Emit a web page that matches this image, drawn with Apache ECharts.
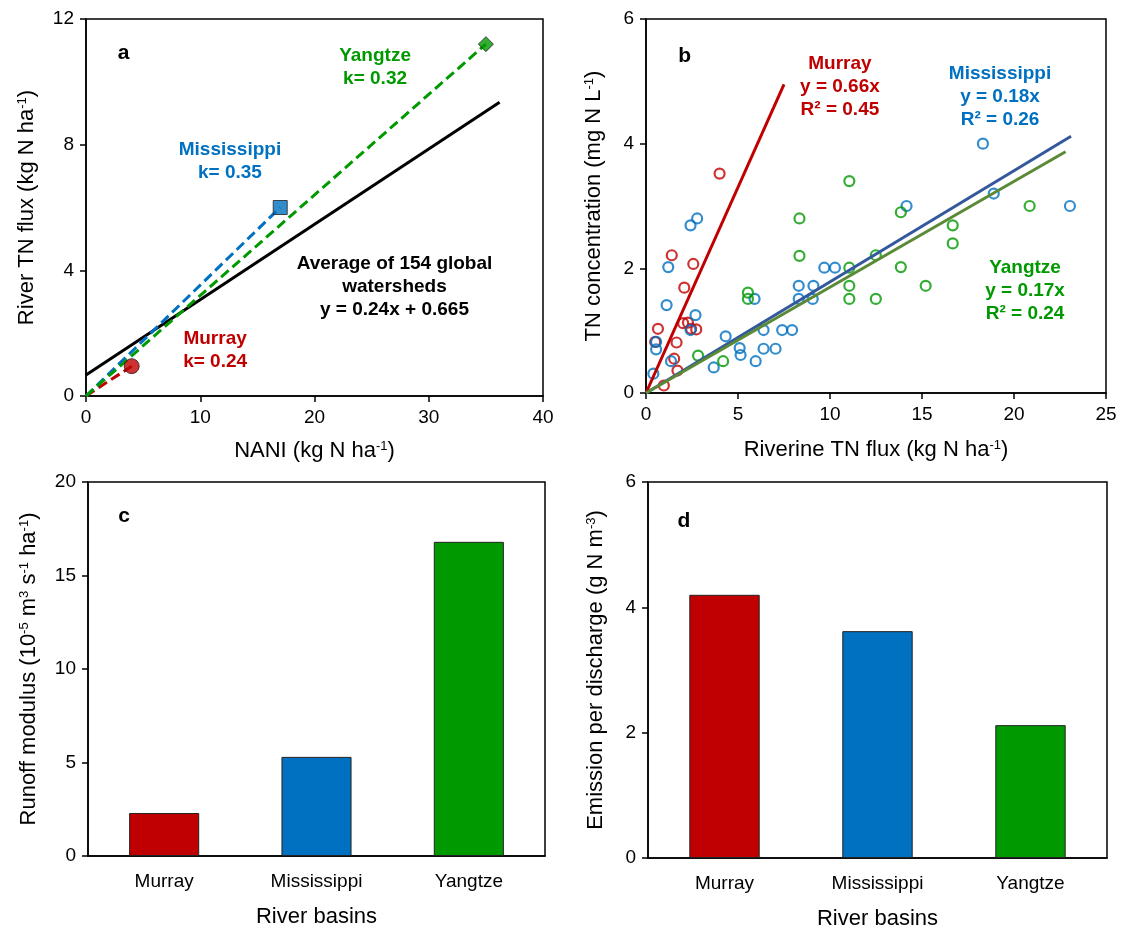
<!DOCTYPE html>
<html>
<head>
<meta charset="utf-8">
<script src="https://cdn.jsdelivr.net/npm/echarts@6/dist/echarts.min.js"></script>
<style>
  html, body { margin: 0; padding: 0; background: #fff; }
  #chart { width: 1121px; height: 932px; }
</style>
</head>
<body>
<div id="chart"></div>
<script>
    'use strict';

    // ---- data ----
    var basins = ['Murray', 'Mississippi', 'Yangtze'];

    // panel a: NANI vs river TN flux (Murray, Mississippi, Yangtze)
    var naniX = [4, 17, 35];
    var fluxY = [0.95, 6.0, 11.2];
    var avgLineX = [0, 36.2];
    var avgLineY = [0.665, 9.35];

    // panel b: riverine TN flux vs TN concentration
    var murrayX = [4.0, 1.4, 2.57, 2.08, 0.65, 0.5, 1.66, 1.53, 1.71, 0.97, 2.02, 2.28, 2.45, 2.73];
    var murrayY = [3.52, 2.21, 2.07, 1.69, 1.03, 0.82, 0.81, 0.55, 0.36, 0.12, 1.12, 1.13, 1.03, 1.02];
    var missX = [2.78, 2.42, 1.21, 1.12, 2.69, 2.42, 0.55, 0.55, 0.4, 1.36, 3.68, 4.33, 5.09, 5.14, 5.96, 6.39,
        6.39, 7.04, 7.4, 7.94, 5.9, 8.3, 8.3, 9.1, 9.06, 9.69, 10.27, 18.31, 18.9, 23.04, 14.16];
    var missY = [2.8, 2.69, 2.02, 1.41, 1.25, 1.01, 0.82, 0.7, 0.31, 0.51, 0.41, 0.91, 0.72, 0.61, 0.51, 0.71,
        1.01, 0.71, 1.01, 1.01, 1.51, 1.72, 1.51, 1.72, 1.51, 2.01, 2.01, 4.0, 3.2, 3.0, 3.0];
    var yangX = [11.05, 8.34, 8.34, 11.05, 11.05, 11.05, 5.54, 5.54, 2.83, 4.19, 12.49, 12.49, 13.85, 16.67,
        16.67, 13.85, 15.2, 20.85];
    var yangY = [3.4, 2.8, 2.2, 2.01, 1.72, 1.51, 1.61, 1.51, 0.6, 0.51, 1.51, 2.21, 2.9, 2.69,
        2.4, 2.02, 1.72, 3.0];
    var murrayFitX = [0, 7.5], murrayFitY = [0, 4.95];
    var missFitX = [0, 23.1], missFitY = [0, 4.12];
    var yangFitX = [0, 22.8], yangFitY = [0, 3.87];

    // panels c, d
    var runoff = [2.3, 5.3, 16.8];
    var emission = [4.2, 3.62, 2.12];

    // ---- styling ----
    var FONT = 'Liberation Sans, Arial, sans-serif';
    var RED = '#C00000', BLUE = '#0070C0', GREEN = '#009900';
    var basinColors = [RED, BLUE, GREEN];

    function zip(xs, ys) {
        return xs.map(function (x, i) { return [x, ys[i]]; });
    }

    var supRich = {
        s: { fontSize: 13, fontFamily: FONT, color: '#000', verticalAlign: 'top' }
    };

    function valueAxis(idx, min, max, interval, name, gap) {
        return {
            type: 'value', gridIndex: idx, min: min, max: max, interval: interval,
            name: name, nameLocation: 'middle', nameGap: gap,
            nameTextStyle: { fontSize: 22, fontFamily: FONT, color: '#000', rich: supRich },
            axisLine: { show: true, onZero: false, lineStyle: { color: '#000', width: 1.5 } },
            axisTick: { show: true, inside: false, length: 6, lineStyle: { color: '#000', width: 1.5 } },
            axisLabel: { fontSize: 19, fontFamily: FONT, color: '#000', margin: 12 },
            splitLine: { show: false }
        };
    }

    function catAxis(idx) {
        return {
            type: 'category', gridIndex: idx, data: basins,
            name: 'River basins', nameLocation: 'middle', nameGap: 50,
            nameTextStyle: { fontSize: 22, fontFamily: FONT, color: '#000' },
            axisLine: { show: true, lineStyle: { color: '#000', width: 1.5 } },
            axisTick: { show: false },
            axisLabel: { fontSize: 19, fontFamily: FONT, color: '#000', margin: 16 },
            splitLine: { show: false }
        };
    }

    var grids = [
        { left: 86, top: 19, width: 457, height: 377 },
        { left: 646, top: 19, width: 460, height: 374 },
        { left: 88, top: 482, width: 457, height: 374 },
        { left: 648, top: 482, width: 459, height: 376 }
    ].map(function (g) {
        g.show = true;
        g.borderColor = '#000';
        g.borderWidth = 1.5;
        g.backgroundColor = '#fff';
        return g;
    });

    var markerSymbols = ['circle', 'rect', 'diamond'];
    var markerSizes = [15, 14, 15];

    var series = [];

    // panel a
    series.push({
        type: 'line', xAxisIndex: 0, yAxisIndex: 0, data: zip(avgLineX, avgLineY),
        symbol: 'none', lineStyle: { color: '#000', width: 3 }, z: 2
    });
    basins.forEach(function (b, i) {
        series.push({
            type: 'line', xAxisIndex: 0, yAxisIndex: 0,
            data: [[0, 0], [naniX[i], fluxY[i]]],
            symbol: 'none', lineStyle: { color: basinColors[i], width: 3, type: [10, 5] }, z: 3
        });
    });
    basins.forEach(function (b, i) {
        series.push({
            type: 'scatter', xAxisIndex: 0, yAxisIndex: 0,
            data: [[naniX[i], fluxY[i]]],
            symbol: markerSymbols[i], symbolSize: markerSizes[i],
            itemStyle: { color: basinColors[i], borderColor: '#222', borderWidth: 1 }, z: 5
        });
    });

    // panel b
    [[murrayX, murrayY, RED], [missX, missY, BLUE], [yangX, yangY, GREEN]].forEach(function (s) {
        series.push({
            type: 'scatter', xAxisIndex: 1, yAxisIndex: 1, data: zip(s[0], s[1]),
            symbol: 'circle', symbolSize: 10,
            itemStyle: { color: 'rgba(0,0,0,0)', borderColor: s[2], borderWidth: 2.2 }, z: 3
        });
    });
    [[murrayFitX, murrayFitY, RED], [missFitX, missFitY, '#33589C'], [yangFitX, yangFitY, '#5A8A36']].forEach(function (s) {
        series.push({
            type: 'line', xAxisIndex: 1, yAxisIndex: 1, data: zip(s[0], s[1]),
            symbol: 'none', lineStyle: { color: s[2], width: 3 }, z: 4
        });
    });

    // panels c, d
    [[2, runoff], [3, emission]].forEach(function (s) {
        series.push({
            type: 'bar', xAxisIndex: s[0], yAxisIndex: s[0], barWidth: '46%',
            data: s[1].map(function (v, i) {
                return { value: v, itemStyle: { color: basinColors[i] } };
            }),
            itemStyle: { borderColor: '#222', borderWidth: 1 }
        });
    });

    var option = {
        animation: false,
        backgroundColor: '#fff',
        grid: grids,
        xAxis: [
            valueAxis(0, 0, 40, 10, 'NANI (kg N ha{s|-1})', 44),
            valueAxis(1, 0, 25, 5, 'Riverine TN flux (kg N ha{s|-1})', 46),
            catAxis(2),
            catAxis(3)
        ],
        yAxis: [
            valueAxis(0, 0, 12, 4, 'River TN flux (kg N ha{s|-1})', 48),
            valueAxis(1, 0, 6, 2, 'TN concentration (mg N L{s|-1})', 41),
            valueAxis(2, 0, 20, 5, 'Runoff modulus (10{s|-5} m{s|3} s{s|-1} ha{s|-1})', 48),
            valueAxis(3, 0, 6, 2, 'Emission per discharge (g N m{s|-3})', 41)
        ],
        series: series
    };

    var myChart = echarts.init(document.getElementById('chart'), null, { renderer: 'canvas' });
    myChart.setOption(option);

    // ---- text annotations, placed in data coordinates ----
    var notes = [
        { grid: 0, at: [3.3, 10.9], text: 'a', color: '#000', size: 21 },
        { grid: 0, at: [25.3, 10.45], text: 'Yangtze\nk= 0.32', color: GREEN },
        { grid: 0, at: [12.6, 7.47], text: 'Mississippi\nk= 0.35', color: BLUE },
        { grid: 0, at: [27.0, 3.47], text: 'Average of 154 global\nwatersheds\ny = 0.24x + 0.665', color: '#000' },
        { grid: 0, at: [11.3, 1.46], text: 'Murray\nk= 0.24', color: RED },
        { grid: 1, at: [2.1, 5.41], text: 'b', color: '#000', size: 21 },
        { grid: 1, at: [10.54, 4.91], text: 'Murray\ny = 0.66x\nR\u00b2 = 0.45', color: RED },
        { grid: 1, at: [19.24, 4.75], text: 'Mississippi\ny = 0.18x\nR\u00b2 = 0.26', color: BLUE },
        { grid: 1, at: [20.6, 1.64], text: 'Yangtze\ny = 0.17x\nR\u00b2 = 0.24', color: GREEN }
    ];
    var graphics = notes.map(function (n) {
        var p = myChart.convertToPixel({ gridIndex: n.grid }, n.at);
        return {
            type: 'text', x: p[0], y: p[1], z: 10,
            style: {
                text: n.text, fill: n.color, font: 'bold ' + (n.size || 19) + 'px ' + FONT,
                align: 'center', verticalAlign: 'middle', lineHeight: 23
            }
        };
    });
    // panel letters for the bar charts
    var pc = myChart.convertToPixel({ yAxisIndex: 2 }, 18.15);
    var pd = myChart.convertToPixel({ yAxisIndex: 3 }, 5.38);
    graphics.push({
        type: 'text', x: 124, y: pc, z: 10,
        style: { text: 'c', fill: '#000', font: 'bold 21px ' + FONT, align: 'center', verticalAlign: 'middle' }
    });
    graphics.push({
        type: 'text', x: 684, y: pd, z: 10,
        style: { text: 'd', fill: '#000', font: 'bold 21px ' + FONT, align: 'center', verticalAlign: 'middle' }
    });
    myChart.setOption({ graphic: graphics });
</script>
</body>
</html>
